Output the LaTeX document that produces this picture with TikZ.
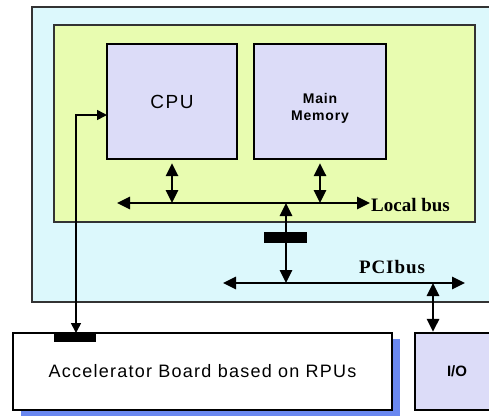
\documentclass[tikz,border=0pt]{standalone}
\usepackage{fontspec}
\setmainfont{Liberation Sans}
\newfontfamily\busfont{Liberation Serif}
\usetikzlibrary{arrows.meta,shadows}
\definecolor{hostcyan}{HTML}{DCF8FC}
\definecolor{boardgreen}{HTML}{E8FCB0}
\definecolor{unitlav}{HTML}{DCDCF8}
\definecolor{shadowblue}{HTML}{6A88F0}
\begin{document}
\begin{tikzpicture}[
    x=1pt, y=-1pt,
    frame/.style={rectangle, draw=black!80, line width=1.5pt, inner sep=0pt},
    unit/.style={rectangle, draw, line width=2.2pt, fill=unitlav, align=center, inner sep=0pt},
    bus/.style={line width=2.8pt, {Triangle[length=13pt,width=12pt]}-{Triangle[length=13pt,width=12pt]}},
    link/.style={line width=1.6pt, {Triangle[length=10pt,width=10pt]}-{Triangle[length=10pt,width=10pt]}},
    bar/.style={fill=black, draw=none},
    buslabel/.style={font=\busfont\bfseries\fontsize{19}{21}\selectfont, inner sep=0pt}
]
\useasboundingbox (0,0) rectangle (489,416);
\clip (0,0) rectangle (489,416);
% host and motherboard
\node[frame, fill=hostcyan, minimum width=463pt, minimum height=295pt] (host) at (263.5,154.5) {};
\node[frame, fill=boardgreen, minimum width=421pt, minimum height=197pt] (board) at (264.5,123.5) {};
\node[unit, minimum width=130pt, minimum height=115pt, font=\fontsize{19}{21}\selectfont\addfontfeatures{LetterSpace=8}] (cpu) at (172,101.5) {CPU};
\node[unit, minimum width=132pt, minimum height=115pt] (mem) at (320,101.5) {};
\node[align=center, font=\bfseries\fontsize{14}{17}\selectfont\addfontfeatures{LetterSpace=6}] (memtext) at (320,108) {Main\\Memory};
% boards below
\node[unit, fill=white, minimum width=379pt, minimum height=77pt, font=\fontsize{18}{20}\selectfont\addfontfeatures{LetterSpace=7},
      drop shadow={shadow xshift=8pt, shadow yshift=-6pt, fill=shadowblue, opacity=1}] (accel) at (202.5,371.5) {Accelerator Board based on RPUs};
\node[unit, minimum width=85pt, minimum height=77pt] (io) at (457.5,371.5) {};
\node[font=\bfseries\fontsize{15}{17}\selectfont] (iotext) at (457,371.5) {I/O};
% buses
\coordinate (lbL) at (117,203);
\coordinate (lbR) at (370,203);
\coordinate (pciL) at (223,283);
\coordinate (pciR) at (465,283);
\coordinate (bridge) at (286,203);
\coordinate (ioTap) at (433,283);
\coordinate (cpuIn) at (107,115);
\coordinate (accTap) at (76,333);
\draw[bus] (lbL) -- (lbR);
\node[buslabel, anchor=west] (lblabel) at (371,205) {Local bus};
\draw[bus] ([yshift=-3pt]cpu.south) -- (cpu.south |- lbL);
\draw[bus] ([yshift=-3pt]mem.south) -- (mem.south |- lbL);
\draw[bus] (bridge) -- (bridge |- pciL);
\fill[bar] (264,232) rectangle (307,243);
\draw[bus] (pciL) -- (pciR);
\node[buslabel, font=\busfont\bfseries\fontsize{19}{21}\selectfont\addfontfeatures{LetterSpace=5}] (pcilabel) at (392,267) {PCIbus};
\draw[bus] (ioTap) -- (ioTap |- io.north);
% accelerator link
\draw[link] (accTap) |- (cpuIn);
\fill[bar] (54,333) rectangle (96,342);
\end{tikzpicture}
\end{document}
